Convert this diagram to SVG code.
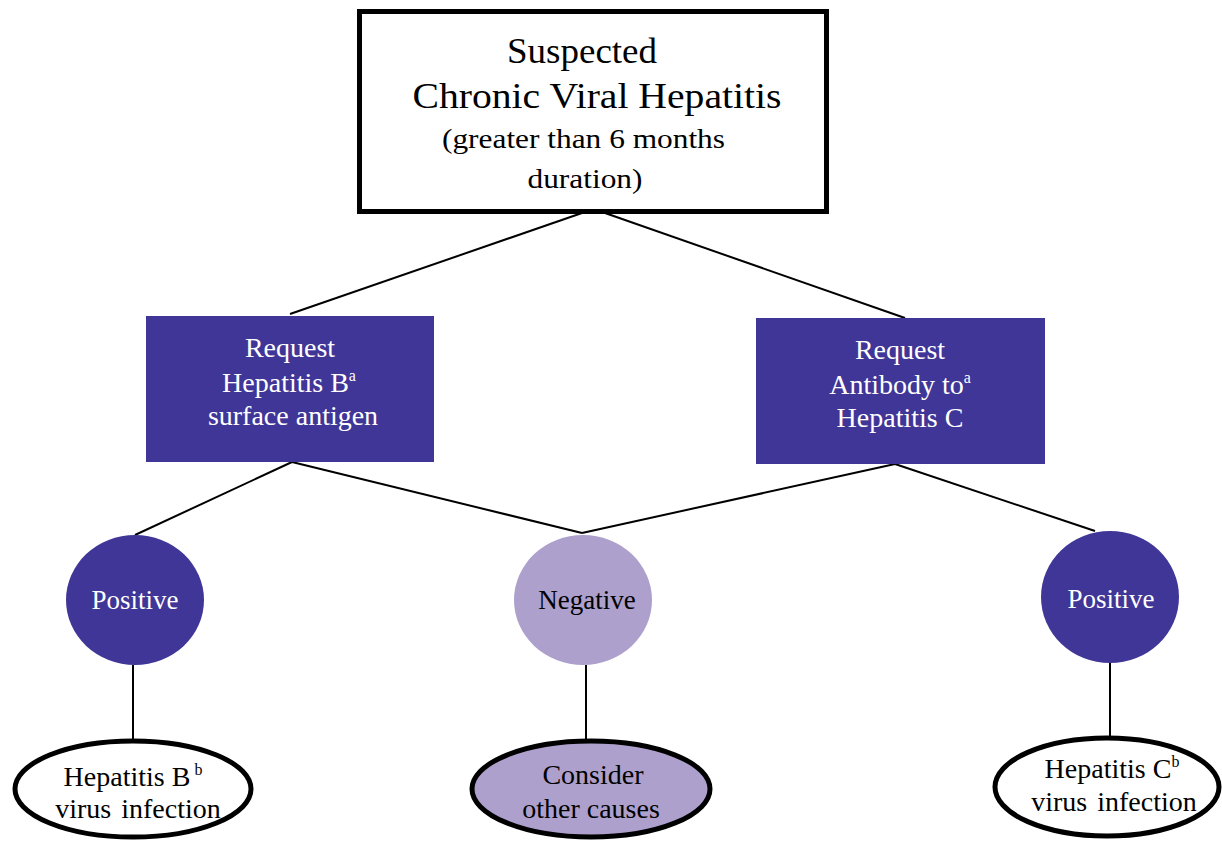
<svg xmlns="http://www.w3.org/2000/svg" width="1222" height="843" viewBox="0 0 1222 843">
<style>
text{font-family:"Liberation Serif","Times New Roman",serif;text-anchor:middle}
.w{fill:#ffffff}.k{fill:#000000}
.dark{fill:#3f3697}.light{fill:#ada0cd}
.ln{stroke:#000;stroke-width:2;fill:none}
.big{font-size:35px}.med{font-size:28px}.sm{font-size:28px}.cir{font-size:27px}
.sup{font-size:16px}
</style>
<rect width="1222" height="843" fill="#fff"/>
<g id="connectors">
<line class="ln" x1="582" y1="213" x2="290" y2="314"/>
<line class="ln" x1="605" y1="213" x2="905" y2="318"/>
<line class="ln" x1="292" y1="462" x2="135" y2="535"/>
<line class="ln" x1="292" y1="462" x2="582" y2="533"/>
<line class="ln" x1="895" y1="464" x2="582" y2="533"/>
<line class="ln" x1="895" y1="464" x2="1095" y2="531"/>
<line class="ln" x1="133" y1="665" x2="133" y2="742"/>
<line class="ln" x1="586" y1="665" x2="586" y2="742"/>
<line class="ln" x1="1110" y1="663" x2="1110" y2="739"/>
</g>
<g id="top">
<rect x="359.5" y="11.5" width="467" height="200" fill="#fff" stroke="#000" stroke-width="5"/>
<text class="big" x="582" y="63" textLength="150" lengthAdjust="spacingAndGlyphs">Suspected</text>
<text class="big" x="597" y="108" textLength="369" lengthAdjust="spacingAndGlyphs">Chronic Viral Hepatitis</text>
<text class="med" x="583.5" y="148" textLength="283" lengthAdjust="spacingAndGlyphs">(greater than 6 months</text>
<text class="med" x="585" y="188" textLength="115" lengthAdjust="spacingAndGlyphs">duration)</text>
</g>
<g id="reqB">
<rect class="dark" x="146" y="316" width="288" height="146"/>
<text class="sm w" x="290" y="357">Request</text>
<text class="sm w" x="289" y="392">Hepatitis B<tspan class="sup" dy="-11">a</tspan></text>
<text class="sm w" x="293" y="425">surface antigen</text>
</g>
<g id="reqC">
<rect class="dark" x="756" y="318" width="289" height="146"/>
<text class="sm w" x="900" y="359">Request</text>
<text class="sm w" x="900" y="394">Antibody to<tspan class="sup" dy="-11">a</tspan></text>
<text class="sm w" x="900" y="427">Hepatitis C</text>
</g>
<g id="posB">
<ellipse class="dark" cx="135" cy="600" rx="69" ry="65"/>
<text class="cir w" x="135" y="609">Positive</text>
</g>
<g id="neg">
<ellipse class="light" cx="583" cy="600" rx="69" ry="65"/>
<text class="cir k" x="587" y="609">Negative</text>
</g>
<g id="posC">
<ellipse class="dark" cx="1110" cy="597" rx="69" ry="66"/>
<text class="cir w" x="1111" y="608">Positive</text>
</g>
<g id="hbv">
<ellipse cx="133" cy="789" rx="118" ry="48" fill="#fff" stroke="#000" stroke-width="5"/>
<text class="sm k" x="133" y="786">Hepatitis B<tspan class="sup" dx="4" dy="-11">b</tspan></text>
<text class="sm k" x="138" y="818" word-spacing="3">virus infection</text>
</g>
<g id="other">
<ellipse cx="591" cy="789" rx="119" ry="48" fill="#ada0cd" stroke="#000" stroke-width="5"/>
<text class="sm k" x="593" y="784">Consider</text>
<text class="sm k" x="591" y="818">other causes</text>
</g>
<g id="hcv">
<ellipse cx="1107" cy="787" rx="112" ry="49" fill="#fff" stroke="#000" stroke-width="5"/>
<text class="sm k" x="1112" y="778">Hepatitis C<tspan class="sup" dy="-11">b</tspan></text>
<text class="sm k" x="1114" y="811" word-spacing="3">virus infection</text>
</g>
</svg>
